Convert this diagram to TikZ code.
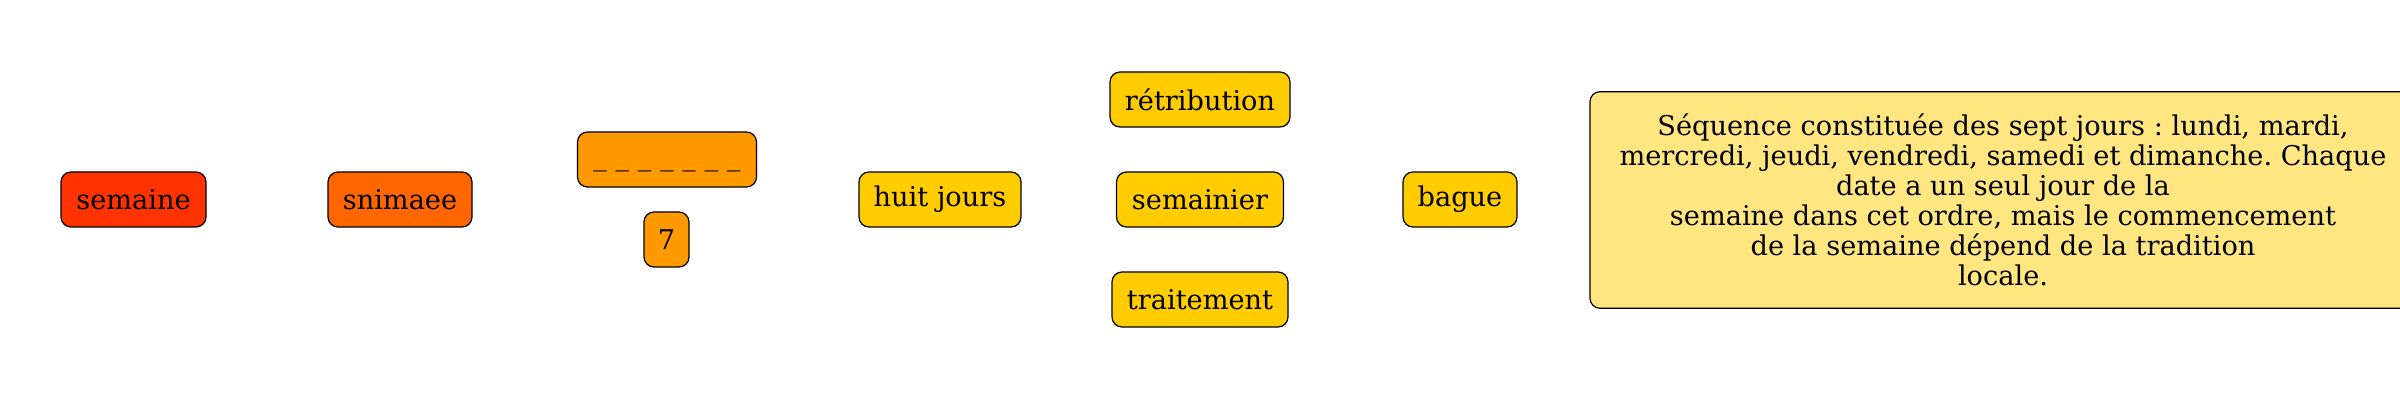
\documentclass[tikz,border=0pt]{standalone}
\usepackage{fontspec}
\setmainfont{DejaVu Serif}
\frenchspacing
\definecolor{cRed}{HTML}{FF3300}
\definecolor{cOrange}{HTML}{FF6600}
\definecolor{cAmber}{HTML}{FF9900}
\definecolor{cGold}{HTML}{FFCC00}
\definecolor{cPale}{HTML}{FFE680}
\begin{document}
\begin{tikzpicture}[x=0.5pt,y=-0.5pt,
  box/.style={draw=black,line width=0.6pt,rounded corners=5pt,minimum height=27.5pt,
    inner sep=0pt,font=\fontsize{13.6}{15}\selectfont},
  defbox/.style={box,align=center,minimum width=413pt,minimum height=108.3pt,fill=cPale}]
\useasboundingbox (0,0) rectangle (2400,400);
\node[box,fill=cRed,minimum width=72.5pt] (semaine) at (133.5,199.5) {semaine};
\node[box,fill=cOrange,minimum width=72pt] (snimaee) at (400,199.5) {snimaee};
\node[box,fill=cAmber,minimum width=89.5pt] (blank) at (667,159.5) {\strut\_ \_ \_ \_ \_ \_ \_};
\node[box,fill=cAmber,minimum width=22.5pt] (seven) at (666.5,239.5) {7};
\node[box,fill=cGold,minimum width=81pt] (huit) at (940,199.5) {huit jours};
\node[box,fill=cGold,minimum width=90pt] (retrib) at (1200,99.5) {rétribution};
\node[box,fill=cGold,minimum width=83.5pt] (semainier) at (1200,199.5) {semainier};
\node[box,fill=cGold,minimum width=88pt] (traitement) at (1200,299.5) {traitement};
\node[box,fill=cGold,minimum width=57pt] (bague) at (1460,199.5) {bague};
\node[defbox] (def) at (2003,200) {Séquence constituée des sept jours : lundi, mardi,\\
mercredi, jeudi, vendredi, samedi et dimanche. Chaque\\
date a un seul jour de la\\
semaine dans cet ordre, mais le commencement\\
de la semaine dépend de la tradition\\
locale.};
\end{tikzpicture}
\end{document}
